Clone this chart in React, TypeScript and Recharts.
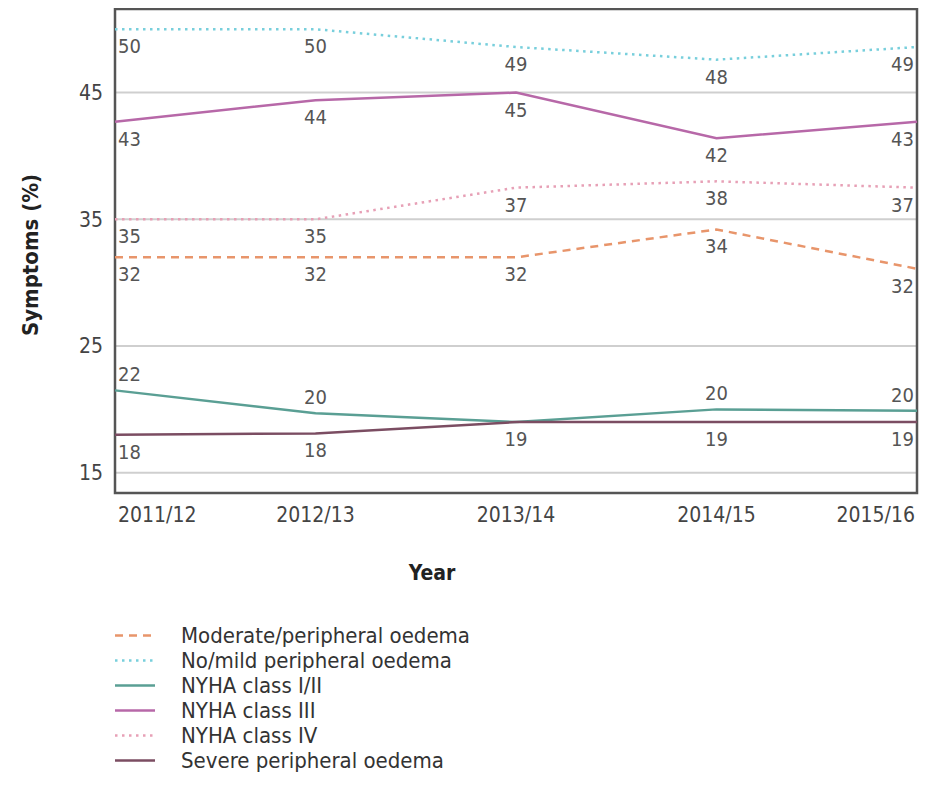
import React from 'react';
import { LineChart, Line, XAxis, YAxis, CartesianGrid, Legend, LabelList, ReferenceArea } from 'recharts';

const FONT = "'DejaVu Sans Condensed', 'DejaVu Sans', sans-serif";

const years = ['2011/12', '2012/13', '2013/14', '2014/15', '2015/16'];
const yTicks = [15, 25, 35, 45];
const yDomain = [13.4, 51.6];

const moderate = [32.0, 32.0, 32.0, 34.2, 31.1];
const moderateLabels = ['32', '32', '32', '34', '32'];
const noMild = [50.0, 50.0, 48.6, 47.6, 48.6];
const noMildLabels = ['50', '50', '49', '48', '49'];
const nyha12 = [21.5, 19.7, 19.0, 20.0, 19.9];
const nyha12Labels = ['22', '20', null, '20', '20'];
const nyha3 = [42.7, 44.4, 45.0, 41.4, 42.7];
const nyha3Labels = ['43', '44', '45', '42', '43'];
const nyha4 = [35.0, 35.0, 37.5, 38.0, 37.5];
const nyha4Labels = ['35', '35', '37', '38', '37'];
const severe = [18.0, 18.1, 19.0, 19.0, 19.0];
const severeLabels = ['18', '18', '19', '19', '19'];

const series = [
  { key: 'moderate', name: 'Moderate/peripheral oedema', values: moderate, labels: moderateLabels, color: '#e8956b', dash: '8 6', pos: 'below' },
  { key: 'noMild', name: 'No/mild peripheral oedema', values: noMild, labels: noMildLabels, color: '#78cfdc', dash: '2.5 4.5', pos: 'below' },
  { key: 'nyha12', name: 'NYHA class I/II', values: nyha12, labels: nyha12Labels, color: '#5a9f94', dash: undefined, pos: 'above' },
  { key: 'nyha3', name: 'NYHA class III', values: nyha3, labels: nyha3Labels, color: '#b768a8', dash: undefined, pos: 'below' },
  { key: 'nyha4', name: 'NYHA class IV', values: nyha4, labels: nyha4Labels, color: '#e7a0b6', dash: '2.5 4.5', pos: 'below' },
  { key: 'severe', name: 'Severe peripheral oedema', values: severe, labels: severeLabels, color: '#7b4d62', dash: undefined, pos: 'below' },
];

const data = years.map((year, i) => {
  const row: any = { year };
  series.forEach((s) => {
    row[s.key] = s.values[i];
    row[s.key + 'Label'] = s.labels[i];
  });
  return row;
});

const makeLabel = (pos: string) => (props: any) => {
  const { x, y, value, index } = props;
  if (value === null || value === undefined || value === '') return null;
  const last = years.length - 1;
  const anchor = index === 0 ? 'start' : index === last ? 'end' : 'middle';
  const tx = index === 0 ? x + 3 : index === last ? x - 3 : x;
  const ty = pos === 'above' ? y - 16 : y + 17;
  return (
    <text x={tx} y={ty} textAnchor={anchor} dominantBaseline="central" fontSize={20} fill="#555" fontFamily={FONT}>
      {value}
    </text>
  );
};

const XTick = (props: any) => {
  const { x, y, payload, index } = props;
  const last = years.length - 1;
  const anchor = index === 0 ? 'start' : index === last ? 'end' : 'middle';
  const tx = index === 0 ? x + 3 : index === last ? x - 2 : x;
  return (
    <text x={tx} y={y} dy="0.71em" textAnchor={anchor} fontSize={21} fill="#444" fontFamily={FONT}>
      {payload.value}
    </text>
  );
};

const YearLabel = (props: any) => {
  const vb = props.viewBox || {};
  return (
    <text x={vb.x + vb.width / 2 - 84} y={vb.y + 80} textAnchor="middle" dominantBaseline="central" fontSize={21} fontWeight="bold" fill="#222" fontFamily={FONT}>
      Year
    </text>
  );
};

const SymLabel = (props: any) => {
  const vb = props.viewBox || {};
  const cx = vb.x + 22;
  const cy = vb.y + vb.height / 2 + 4;
  return (
    <text x={cx} y={cy} textAnchor="middle" dominantBaseline="central" fontSize={22} fontWeight="bold" fill="#222" fontFamily={FONT} transform={`rotate(-90, ${cx}, ${cy})`}>
      Symptoms (%)
    </text>
  );
};

const LegendContent = () => (
  <div style={{ height: 150, fontFamily: FONT, fontSize: 22, color: '#333' }}>
    {series.map((s) => (
      <div key={s.key} style={{ height: 25, display: 'flex', alignItems: 'center' }}>
        <svg width={40} height={25} style={{ display: 'block' }}>
          <line x1={0} y1={12.5} x2={40} y2={12.5} stroke={s.color} strokeWidth={2.5} strokeDasharray={s.dash} />
        </svg>
        <span style={{ marginLeft: 26, whiteSpace: 'nowrap', lineHeight: '25px' }}>{s.name}</span>
      </div>
    ))}
  </div>
);

export default function App() {
  return (
    <div style={{ width: 926, height: 789 }}>
      <LineChart width={926} height={789} data={data} margin={{ top: 1, right: 17, bottom: 0, left: 0 }}>
        <CartesianGrid horizontal vertical={false} stroke="#cfcfcf" strokeWidth={2} />
        <XAxis
          dataKey="year"
          interval={0}
          padding={{ left: 0, right: 0 }}
          tickLine={false}
          axisLine={false}
          tickSize={0}
          tickMargin={14}
          height={154}
          tick={<XTick />}
          label={{ content: YearLabel }}
        />
        <YAxis
          type="number"
          domain={yDomain}
          ticks={yTicks}
          allowDataOverflow
          width={107}
          tickLine={false}
          axisLine={false}
          tickSize={0}
          tickMargin={12}
          tick={{ fontSize: 21, fill: '#444', fontFamily: FONT }}
          label={{ content: SymLabel }}
        />
        <ReferenceArea
          x1={years[0]}
          x2={years[years.length - 1]}
          y1={yDomain[0]}
          y2={yDomain[1]}
          fill="none"
          fillOpacity={0}
          stroke="#555"
          strokeWidth={2.5}
          ifOverflow="visible"
        />
        <Legend
          verticalAlign="bottom"
          layout="horizontal"
          content={<LegendContent />}
          wrapperStyle={{ top: 615, left: 107, width: 500, height: 150 }}
        />
        {series.map((s) => (
          <Line
            key={s.key}
            type="linear"
            dataKey={s.key}
            name={s.name}
            stroke={s.color}
            strokeWidth={2.5}
            strokeDasharray={s.dash}
            dot={false}
            activeDot={false}
            isAnimationActive={false}
          >
            <LabelList dataKey={s.key + 'Label'} content={makeLabel(s.pos)} />
          </Line>
        ))}
      </LineChart>
    </div>
  );
}
